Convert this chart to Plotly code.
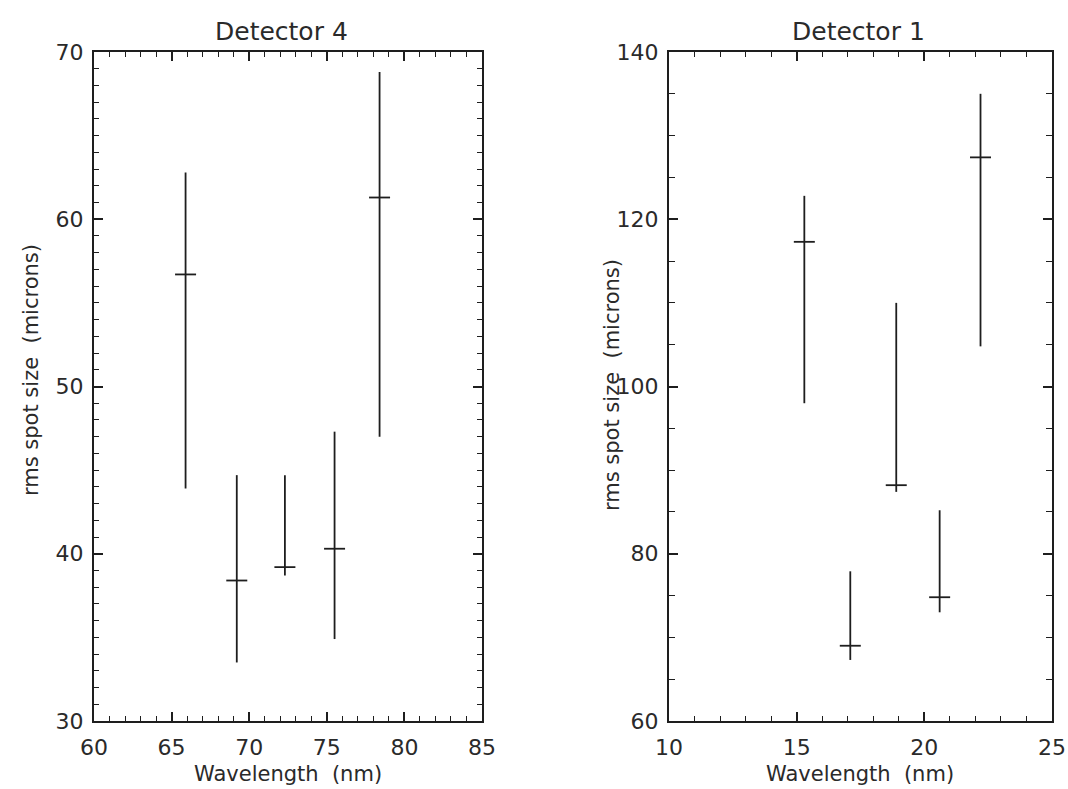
import plotly.graph_objects as go

# Detector 4 (left panel)
d4_wavelength = [65.9, 69.2, 72.3, 75.5, 78.4]
d4_center = [56.7, 38.4, 39.2, 40.3, 61.3]
d4_upper = [62.8, 44.7, 44.7, 47.3, 68.8]
d4_lower = [43.9, 33.5, 38.7, 34.9, 47.0]

# Detector 1 (right panel)
d1_wavelength = [15.3, 17.1, 18.9, 20.6, 22.2]
d1_center = [117.3, 69.0, 88.2, 74.8, 127.4]
d1_upper = [122.8, 77.9, 110.0, 85.2, 135.0]
d1_lower = [98.0, 67.3, 87.4, 73.0, 104.8]

INK = "#1e1e1e"
TXT = "#2a2a2a"
FONT = "DejaVu Sans"
W, H = 1068, 789

fig = go.Figure()

def add_panel(xs, c, up, lo, xa, ya):
    fig.add_trace(go.Scatter(
        x=xs, y=c, mode="markers", xaxis=xa, yaxis=ya,
        marker=dict(symbol="line-ew", size=15, line=dict(width=1.8, color=INK), color=INK),
        error_y=dict(type="data", symmetric=False,
                     array=[u - m for u, m in zip(up, c)],
                     arrayminus=[m - l for m, l in zip(c, lo)],
                     width=0, thickness=1.8, color=INK),
        showlegend=False, hoverinfo="skip"))

add_panel(d4_wavelength, d4_center, d4_upper, d4_lower, "x", "y")
add_panel(d1_wavelength, d1_center, d1_upper, d1_lower, "x2", "y2")

ydom = [1 - 721 / H, 1 - 52 / H]
x1dom = [94 / W, 482 / W]
x2dom = [669 / W, 1052 / W]

def axis_common(rng, dtick, minor_dtick, domain, anchor, major_len=9, minor_len=5):
    return dict(range=rng, dtick=dtick, tick0=rng[0], ticks="inside", ticklen=major_len, tickwidth=1.5,
                tickcolor=INK, showline=True, linecolor=INK, linewidth=2, mirror="allticks",
                showgrid=False, zeroline=False, automargin=False,
                domain=domain, anchor=anchor,
                tickfont=dict(family=FONT, size=22, color=TXT),
                minor=dict(dtick=minor_dtick, tick0=rng[0], ticks="inside", ticklen=minor_len,
                           tickwidth=1.2, tickcolor=INK, showgrid=False))

xa1 = axis_common([60, 85], 5, 1, x1dom, "y")
xa2 = axis_common([10, 25], 5, 1, x2dom, "y2")
ya1 = axis_common([30, 70], 10, 1, ydom, "x")
ya2 = axis_common([60, 140], 20, 5, ydom, "x2", major_len=9, minor_len=6)
for a in (ya1, ya2):
    a["ticklabelstandoff"] = 4
for a in (xa1, xa2):
    a["ticklabelstandoff"] = 6

title_font = dict(family=FONT, size=25, color=TXT)
lab_font = dict(family=FONT, size=21, color=TXT)

fig.update_layout(
    width=W, height=H,
    margin=dict(l=0, r=0, t=0, b=0),
    paper_bgcolor="white", plot_bgcolor="white",
    xaxis=xa1, yaxis=ya1, xaxis2=xa2, yaxis2=ya2,
    annotations=[
        dict(text="Detector 4", x=281 / W, y=1 - 31 / H, xref="paper", yref="paper",
             showarrow=False, font=title_font, yanchor="middle", xanchor="center"),
        dict(text="Detector 1", x=858 / W, y=1 - 31 / H, xref="paper", yref="paper",
             showarrow=False, font=title_font, yanchor="middle", xanchor="center"),
        dict(text="Wavelength  (nm)", x=288 / W, y=1 - 774 / H, xref="paper", yref="paper",
             showarrow=False, font=lab_font, yanchor="middle", xanchor="center"),
        dict(text="Wavelength  (nm)", x=860 / W, y=1 - 774 / H, xref="paper", yref="paper",
             showarrow=False, font=lab_font, yanchor="middle", xanchor="center"),
        dict(text="rms spot size  (microns)", x=31 / W, y=1 - 370 / H, xref="paper", yref="paper",
             showarrow=False, font=lab_font, textangle=-90, yanchor="middle", xanchor="center"),
        dict(text="rms spot size  (microns)", x=612 / W, y=1 - 385 / H, xref="paper", yref="paper",
             showarrow=False, font=lab_font, textangle=-90, yanchor="middle", xanchor="center"),
    ],
)

fig.write_html("out.html", config={"displayModeBar": False},
               post_script="document.body.style.margin='0px';document.body.style.overflow='hidden';")
